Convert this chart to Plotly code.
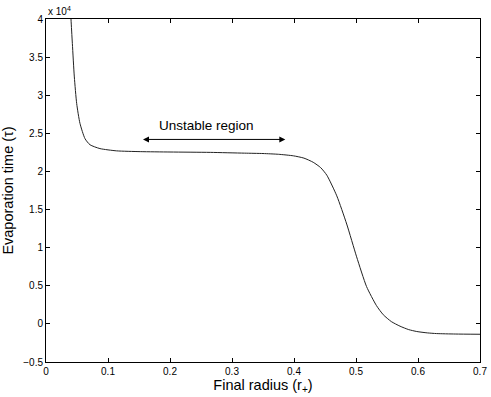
import plotly.graph_objects as go

# final radius r+ and evaporation time tau (in units of 1e4)
radius = [0.0385, 0.0403, 0.0425, 0.0457, 0.0495, 0.0548, 0.0629, 0.071, 0.087, 0.114,
          0.152, 0.2, 0.265, 0.32, 0.35, 0.375, 0.399, 0.416, 0.431, 0.443, 0.453,
          0.469, 0.485, 0.501, 0.517, 0.533, 0.544, 0.557, 0.571, 0.585, 0.598,
          0.615, 0.63, 0.66, 0.7]
tau = [4.3, 4.0, 3.68, 3.24, 2.89, 2.63, 2.43, 2.35, 2.30, 2.27,
       2.26, 2.255, 2.25, 2.24, 2.235, 2.225, 2.205, 2.175, 2.12, 2.05, 1.95,
       1.68, 1.31, 0.88, 0.49, 0.24, 0.12, 0.03, -0.03, -0.075, -0.10,
       -0.118, -0.127, -0.133, -0.136]

x_ticks = [0, 0.1, 0.2, 0.3, 0.4, 0.5, 0.6, 0.7]
y_ticks = [-0.5, 0, 0.5, 1, 1.5, 2, 2.5, 3, 3.5, 4]
y_labels = ['\u22120.5', '0', '0.5', '1', '1.5', '2', '2.5', '3', '3.5', '4']

font_family = 'Liberation Sans, Arial, sans-serif'

fig = go.Figure()

fig.add_trace(go.Scatter(
    x=radius, y=tau,
    mode='lines',
    line=dict(color='#222222', width=1, shape='spline', smoothing=0.6),
    showlegend=False,
))

# double-headed arrow marking the unstable region
fig.add_annotation(
    x=0.386, y=2.42, ax=0.154, ay=2.42,
    xref='x', yref='y', axref='x', ayref='y',
    text='', showarrow=True,
    arrowhead=2, startarrowhead=2, arrowside='end+start',
    arrowsize=1.2, arrowwidth=1, arrowcolor='black',
)
fig.add_annotation(
    x=0.259, y=2.6, xref='x', yref='y',
    text='Unstable region', showarrow=False,
    font=dict(size=13.5, color='black', family=font_family),
)
# MATLAB style exponent label
fig.add_annotation(
    x=0, y=1, xref='paper', yref='paper',
    xanchor='left', yanchor='bottom', yshift=0,
    text='x 10<sup>4</sup>', showarrow=False,
    font=dict(size=10, color='black', family=font_family),
)

axis_style = dict(
    showgrid=False, zeroline=False, automargin=False,
    showline=True, linecolor='black', linewidth=1, mirror='ticks',
    ticks='inside', ticklen=4, tickcolor='black',
    tickfont=dict(size=10, color='black', family=font_family),
    title_font=dict(size=14.5, color='black', family=font_family),
)

fig.update_xaxes(
    range=[0, 0.7], tickvals=x_ticks,
    ticktext=[str(t) for t in x_ticks],
    title_text='Final radius (r<sub>+</sub>)', title_standoff=0,
    **axis_style,
)
fig.update_yaxes(
    range=[-0.5, 4], tickvals=y_ticks, ticktext=y_labels,
    title_text='Evaporation time (\u03c4)', title_standoff=10,
    **axis_style,
)

fig.update_layout(
    width=491, height=397,
    margin=dict(l=46, r=11, t=19, b=35),
    plot_bgcolor='white', paper_bgcolor='white',
    font=dict(family=font_family, color='black'),
)

# drop the default page margin so the figure sits at the window corner
fig.write_html("out.html", config={'displayModeBar': False},
               post_script="document.body.style.margin='0';")
